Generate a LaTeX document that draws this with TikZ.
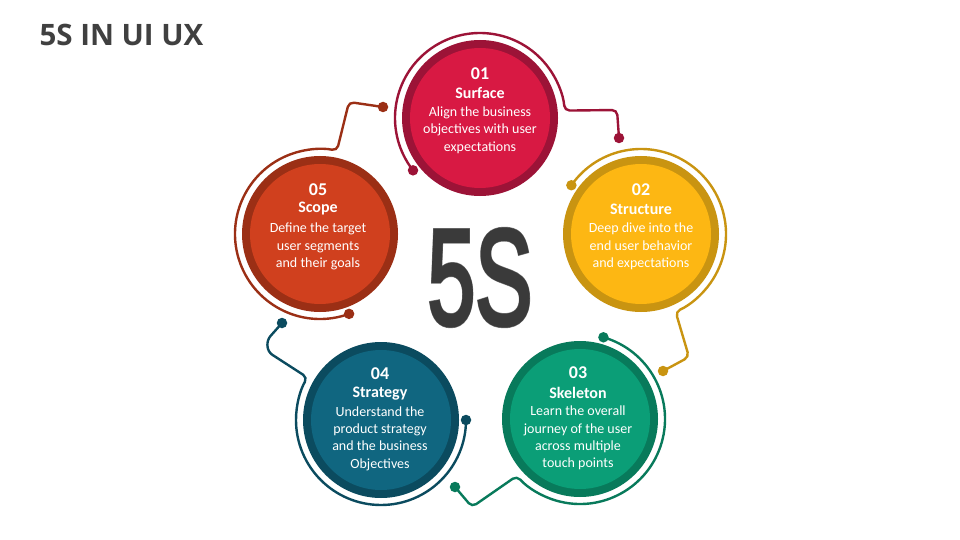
\documentclass[tikz,border=0pt]{standalone}
\usepackage{fontspec}
\setmainfont{Carlito}
\newfontfamily\titlefont{Open Sans}
\newfontfamily\bigfontout[FakeBold=3.8]{Liberation Sans}
\newfontfamily\bigfontin[FakeBold=3]{Liberation Sans}
\usetikzlibrary{calc}
\definecolor{redF}{HTML}{D81943}
\definecolor{redD}{HTML}{9C1337}
\definecolor{yelF}{HTML}{FDB713}
\definecolor{yelD}{HTML}{C99411}
\definecolor{grnF}{HTML}{0B9E77}
\definecolor{grnD}{HTML}{087A5B}
\definecolor{bluF}{HTML}{106680}
\definecolor{bluD}{HTML}{0B4B5F}
\definecolor{orgF}{HTML}{D0401E}
\definecolor{orgD}{HTML}{9B2F15}
\definecolor{txtD}{HTML}{3A3A3A}
\definecolor{txtT}{HTML}{404040}
\definecolor{txtO}{HTML}{7A7A7A}
\begin{document}
\begin{tikzpicture}[x=1pt,y=-1pt,
  ring/.style={circle, inner sep=0pt, minimum size=156pt, fill=#1},
  core/.style={circle, inner sep=0pt, minimum size=140pt, fill=#1},
  thinline/.style={draw=#1, line width=2.4pt, rounded corners=5pt},
  dotc/.style={circle, inner sep=0pt, minimum size=10.5pt, fill=#1},
  num/.style={text=white, font=\fontsize{18}{20}\selectfont\bfseries},
  ttl/.style={text=white, font=\fontsize{16}{18}\selectfont\bfseries},
  dsc/.style={text=white, align=center, inner sep=0pt, font=\fontsize{14}{17.3}\selectfont},
]
\useasboundingbox (0,0) rectangle (960,540);
\fill[white] (0,0) rectangle (960,540);

% title
\node[anchor=west, text=txtT, font=\titlefont\bfseries\fontsize{29.5}{31}\selectfont] (title) at (36,35) {5S IN UI UX};

% circles
\node[ring=redD] (c1) at (480,118) {};
\node[core=redF] (k1) at (c1) {};
\node[ring=yelD] (c2) at (641,234) {};
\node[core=yelF] (k2) at (c2) {};
\node[ring=grnD] (c3) at (580,419) {};
\node[core=grnF] (k3) at (c3) {};
\node[ring=bluD] (c4) at (381,420) {};
\node[core=bluF] (k4) at (c4) {};
\node[ring=orgD] (c5) at (320,234) {};
\node[core=orgF] (k5) at (c5) {};

% dots
\node[dotc=redD] (d1a) at ($(c1)+(-218:85)$) {};
\node[dotc=redD] (d1b) at (619,138) {};
\node[dotc=yelD] (d2a) at ($(c2)+(-145:85)$) {};
\node[dotc=yelD] (d2b) at (663,371) {};
\node[dotc=grnD] (d3a) at ($(c3)+(-74:85)$) {};
\node[dotc=grnD] (d3b) at (455,487) {};
\node[dotc=bluD] (d4a) at ($(c4)+(0:85)$) {};
\node[dotc=bluD] (d4b) at (282,323) {};
\node[dotc=orgD] (d5a) at ($(c5)+(70:85)$) {};
\node[dotc=orgD] (d5b) at (383,107) {};

% arcs and connectors
\draw[thinline=redD] (d1a.center) arc[start angle=-218, end angle=-5, radius=85] -- (617,110) -- (d1b.center);
\draw[thinline=yelD] (d2a.center) arc[start angle=-145, end angle=66, radius=85] -- (689,357) -- (d2b.center);
\draw[thinline=grnD] (d3a.center) arc[start angle=-74, end angle=138, radius=85] -- (472,507) -- (d3b.center);
\draw[thinline=bluD] (d4a.center) arc[start angle=0, end angle=210, radius=85] -- (268,352) -- (267,340) -- (d4b.center);
\draw[thinline=orgD] (d5a.center) arc[start angle=70, end angle=281.5, radius=85] -- (349,102) -- (d5b.center);

% center text: outline then fill
\node[text=txtO, inner sep=0pt, font=\bigfontout\fontsize{136}{140}\selectfont] (fiveo) at (480,277.5) {\scalebox{0.63}[1]{5S}};
\node[text=txtD, inner sep=0pt, font=\bigfontin\fontsize{136}{140}\selectfont] (five) at (fiveo) {\scalebox{0.63}[1]{5S}};

% texts
\node[num] (n1) at (480,74) {01};
\node[ttl] (t1) at (480,93) {Surface};
\node[dsc] (x1) at (480,130) {Align the business\\objectives with user\\expectations};

\node[num] (n2) at (641,190) {02};
\node[ttl] (t2) at (641,209) {Structure};
\node[dsc] (x2) at (641,246.5) {Deep dive into the\\end user behavior\\and expectations};

\node[num] (n3) at (578,373) {03};
\node[ttl] (t3) at (578,393) {Skeleton};
\node[dsc] (x3) at (578,438) {Learn the overall\\journey of the user\\across multiple\\touch points};

\node[num] (n4) at (380,374) {04};
\node[ttl] (t4) at (380,394) {Strategy};
\node[dsc] (x4) at (380,438.5) {Understand the\\product strategy\\and the business\\Objectives};

\node[num] (n5) at (318,190) {05};
\node[ttl] (t5) at (318,209) {Scope};
\node[dsc] (x5) at (318,246.5) {Define the target\\user segments\\and their goals};
\end{tikzpicture}
\end{document}
